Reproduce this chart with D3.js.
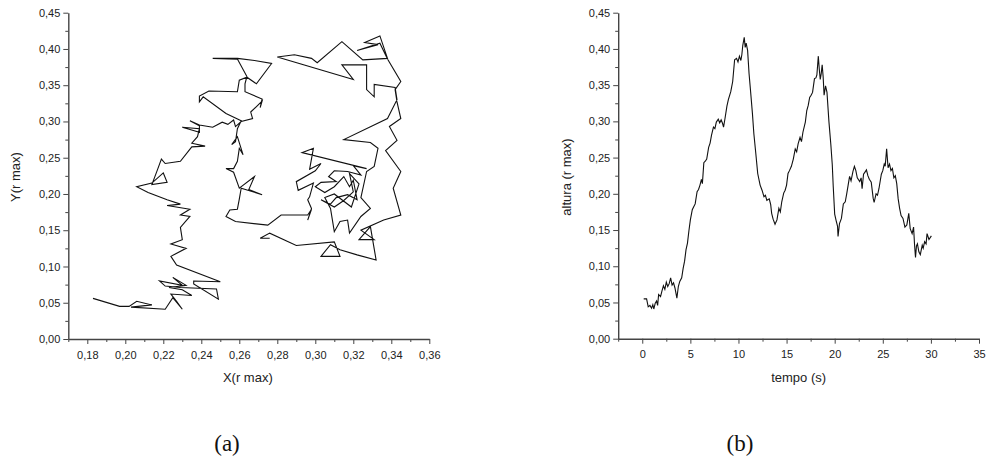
<!DOCTYPE html>
<html>
<head>
<meta charset="utf-8">
<script src="https://cdn.jsdelivr.net/npm/d3@7"></script>
<style>
  body { margin: 0; background: #fff; }
  svg { display: block; }
  .tick text { font-family: "Liberation Sans", Arial, sans-serif; font-size: 11px; fill: #222; }
  .axis path, .axis line { stroke: #444; }
  .title { font-family: "Liberation Sans", Arial, sans-serif; font-size: 13px; fill: #222; }
  .caption { font-family: "Liberation Serif", "DejaVu Serif", serif; font-size: 23px; fill: #111; }
</style>
</head>
<body>
<script>
// (a) trajectory in the plane, X and Y in units of r max
const trajX = [
  0.183, 0.197, 0.202, 0.206, 0.214, 0.203, 0.221, 0.225, 0.230, 0.227, 0.224, 0.235, 0.230, 0.223,
  0.232, 0.225, 0.230, 0.218, 0.221, 0.229, 0.248, 0.249, 0.236, 0.236, 0.250, 0.227,
  0.224, 0.232, 0.224, 0.230, 0.229, 0.234, 0.229, 0.234, 0.222, 0.229, 0.222, 0.212, 0.206, 0.214,
  0.220, 0.222, 0.214, 0.217, 0.219, 0.221, 0.229, 0.235, 0.242, 0.235, 0.238, 0.239, 0.230, 0.239,
  0.239, 0.234, 0.239, 0.246, 0.251, 0.254, 0.257, 0.258,
  0.261, 0.267, 0.266, 0.272, 0.271, 0.272, 0.263, 0.263, 0.264, 0.259, 0.246, 0.259, 0.268, 0.277,
  0.269, 0.264, 0.260, 0.259, 0.244, 0.239, 0.239, 0.241, 0.253, 0.261, 0.259, 0.258, 0.256, 0.259,
  0.262, 0.260, 0.259, 0.257, 0.253, 0.257, 0.260, 0.268, 0.265, 0.272, 0.261, 0.260, 0.259, 0.255,
  0.253, 0.258, 0.275, 0.282, 0.296, 0.298, 0.296, 0.298, 0.296, 0.297, 0.299, 0.291, 0.290, 0.300,
  0.303, 0.297, 0.299, 0.293, 0.327, 0.320, 0.324,
  0.317, 0.310, 0.307, 0.311, 0.303, 0.300, 0.305, 0.310, 0.315, 0.318, 0.320, 0.322, 0.317, 0.311,
  0.308, 0.303, 0.310, 0.315, 0.320, 0.318, 0.323, 0.319, 0.310, 0.305, 0.308, 0.310, 0.313, 0.317,
  0.318, 0.324, 0.329, 0.324, 0.327, 0.331, 0.333, 0.329, 0.315, 0.338,
  0.343, 0.342, 0.331, 0.331, 0.327, 0.327, 0.314, 0.320, 0.280, 0.289, 0.298, 0.301, 0.314, 0.325,
  0.338, 0.334, 0.326, 0.333, 0.322, 0.334, 0.338, 0.345, 0.342, 0.343, 0.345, 0.339, 0.343, 0.337,
  0.345, 0.341, 0.345, 0.336, 0.324, 0.331, 0.323, 0.329, 0.332, 0.322, 0.313, 0.308, 0.303, 0.313,
  0.310, 0.290, 0.276, 0.271, 0.276
];
const trajY = [
  0.056, 0.045, 0.045, 0.052, 0.047, 0.044, 0.041, 0.057, 0.041, 0.052, 0.062, 0.060, 0.068, 0.071,
  0.074, 0.085, 0.074, 0.080, 0.073, 0.071, 0.069, 0.055, 0.076, 0.080, 0.079, 0.102,
  0.114, 0.125, 0.131, 0.137, 0.154, 0.169, 0.171, 0.179, 0.184, 0.186, 0.192, 0.202, 0.210, 0.215,
  0.229, 0.216, 0.213, 0.234, 0.248, 0.242, 0.245, 0.265, 0.266, 0.270, 0.279, 0.290, 0.292, 0.285,
  0.294, 0.301, 0.295, 0.292, 0.299, 0.296, 0.302, 0.293,
  0.300, 0.304, 0.313, 0.328, 0.319, 0.331, 0.341, 0.352, 0.362, 0.386, 0.387, 0.387, 0.384, 0.380,
  0.352, 0.361, 0.357, 0.341, 0.342, 0.335, 0.327, 0.334, 0.311, 0.301, 0.290, 0.272, 0.268, 0.279,
  0.254, 0.263, 0.245, 0.235, 0.235, 0.230, 0.208, 0.224, 0.206, 0.199, 0.208, 0.193, 0.179, 0.178,
  0.169, 0.162, 0.157, 0.171, 0.171, 0.179, 0.164, 0.180, 0.192, 0.196, 0.215, 0.205, 0.217, 0.232,
  0.242, 0.234, 0.263, 0.257, 0.235, 0.239, 0.226,
  0.231, 0.232, 0.224, 0.217, 0.216, 0.210, 0.202, 0.210, 0.224, 0.210, 0.219, 0.192, 0.199, 0.195,
  0.186, 0.192, 0.182, 0.191, 0.203, 0.228, 0.214, 0.182, 0.200, 0.195, 0.180, 0.148, 0.162, 0.164,
  0.146, 0.169, 0.180, 0.195, 0.231, 0.238, 0.263, 0.271, 0.275, 0.304,
  0.330, 0.347, 0.351, 0.334, 0.344, 0.378, 0.378, 0.358, 0.389, 0.392, 0.387, 0.381, 0.410, 0.385,
  0.387, 0.418, 0.409, 0.406, 0.398, 0.408, 0.386, 0.355, 0.344, 0.327, 0.304, 0.293, 0.274, 0.260,
  0.231, 0.208, 0.171, 0.164, 0.150, 0.137, 0.137, 0.155, 0.109, 0.116, 0.123, 0.130, 0.114, 0.114,
  0.134, 0.129, 0.146, 0.139, 0.139
];

// (b) height against time
const tempo = [
  0.15, 0.45, 0.62, 0.8, 0.97, 1.1, 1.2, 1.35, 1.49, 1.6, 1.7, 1.9, 2.05, 2.2, 2.35, 2.5, 2.65, 2.8,
  2.95, 3.1, 3.25, 3.4, 3.6, 3.75, 3.9, 4.1, 4.25, 4.4, 4.55, 4.7, 4.85, 5.0, 5.2, 5.35, 5.5, 5.7,
  5.85, 6.0, 6.15, 6.25, 6.4, 6.55, 6.7, 6.9, 7.05, 7.2, 7.4, 7.55, 7.7, 7.9, 8.05, 8.2, 8.35, 8.45,
  8.6, 8.8, 8.95, 9.2, 9.4, 9.6, 9.8, 9.95, 10.1, 10.25, 10.35, 10.45, 10.6, 10.7, 10.8, 10.95, 11.1,
  11.25, 11.45, 11.6, 11.8, 12.0, 12.25, 12.45, 12.65, 12.8, 12.95, 13.2, 13.35, 13.45, 13.6, 13.8,
  14.0, 14.2, 14.35, 14.5, 14.7, 14.85, 15.0, 15.15, 15.3, 15.5, 15.7, 15.9, 16.05, 16.2, 16.4, 16.55,
  16.7, 16.95, 17.1, 17.25, 17.4, 17.55, 17.7, 17.9, 18.05, 18.15, 18.3, 18.4, 18.5, 18.6, 18.7, 18.8,
  18.9, 19.05, 19.2, 19.4, 19.6, 19.75, 19.85, 20.0, 20.15, 20.3, 20.35, 20.5, 20.7, 20.9, 21.1,
  21.25, 21.4, 21.55, 21.7, 21.9, 22.05, 22.2, 22.35, 22.6, 22.75, 22.85, 23.0, 23.15, 23.3, 23.45,
  23.6, 23.8, 24.0, 24.1, 24.3, 24.45, 24.6, 24.85, 25.0, 25.15, 25.25, 25.4, 25.55, 25.7, 25.85,
  26.0, 26.15, 26.3, 26.45, 26.6, 26.75, 26.9, 27.1, 27.3, 27.5, 27.7, 27.85, 28.05, 28.2, 28.3,
  28.4, 28.5, 28.6, 28.75, 28.9, 29.1, 29.2, 29.35, 29.5, 29.6, 29.8, 30.05
];
const altura = [
  0.055, 0.055, 0.044, 0.046, 0.042, 0.047, 0.041, 0.049, 0.052, 0.046, 0.061, 0.058, 0.066, 0.073,
  0.068, 0.078, 0.072, 0.076, 0.084, 0.074, 0.077, 0.070, 0.056, 0.072, 0.079, 0.084, 0.097, 0.107,
  0.123, 0.132, 0.149, 0.164, 0.178, 0.182, 0.186, 0.203, 0.206, 0.212, 0.220, 0.214, 0.243, 0.245,
  0.248, 0.264, 0.270, 0.281, 0.292, 0.290, 0.299, 0.303, 0.298, 0.302, 0.297, 0.292, 0.304, 0.321,
  0.330, 0.341, 0.355, 0.385, 0.387, 0.382, 0.390, 0.384, 0.392, 0.405, 0.416, 0.402, 0.408, 0.398,
  0.366, 0.343, 0.311, 0.283, 0.256, 0.228, 0.212, 0.205, 0.196, 0.198, 0.191, 0.193, 0.185, 0.173,
  0.165, 0.158, 0.164, 0.180, 0.175, 0.189, 0.201, 0.205, 0.212, 0.228, 0.232, 0.238, 0.248, 0.262,
  0.258, 0.269, 0.278, 0.272, 0.285, 0.299, 0.315, 0.322, 0.333, 0.336, 0.340, 0.359, 0.360, 0.364,
  0.390, 0.372, 0.358, 0.366, 0.378, 0.362, 0.336, 0.349, 0.340, 0.300, 0.268, 0.240, 0.210, 0.172,
  0.163, 0.155, 0.141, 0.159, 0.166, 0.186, 0.189, 0.200, 0.212, 0.224, 0.218, 0.231, 0.238, 0.232,
  0.222, 0.217, 0.222, 0.207, 0.227, 0.230, 0.233, 0.225, 0.220, 0.216, 0.194, 0.188, 0.200, 0.198,
  0.207, 0.227, 0.232, 0.241, 0.238, 0.262, 0.236, 0.241, 0.232, 0.235, 0.222, 0.225, 0.214, 0.193,
  0.180, 0.170, 0.166, 0.154, 0.157, 0.173, 0.152, 0.145, 0.154, 0.130, 0.112, 0.128, 0.131, 0.120,
  0.116, 0.129, 0.125, 0.134, 0.131, 0.145, 0.137, 0.142
];

// ticks
const yMajor = [0, 0.05, 0.10, 0.15, 0.20, 0.25, 0.30, 0.35, 0.40, 0.45];
const yMinor = [0.025, 0.075, 0.125, 0.175, 0.225, 0.275, 0.325, 0.375, 0.425];
const xMajorA = [0.18, 0.20, 0.22, 0.24, 0.26, 0.28, 0.30, 0.32, 0.34, 0.36];
const xMinorA = [0.17, 0.19, 0.21, 0.23, 0.25, 0.27, 0.29, 0.31, 0.33, 0.35];
const xMajorB = [0, 5, 10, 15, 20, 25, 30, 35];
const xMinorB = [-2.5, 2.5, 7.5, 12.5, 17.5, 22.5, 27.5, 32.5];

const width = 986, height = 461;
const svg = d3.select('body').append('svg')
  .attr('width', width)
  .attr('height', height);

const comma = (f) => (d) => d3.format(f)(d).replace('.', ',');

function drawPanel(opts) {
  let {x, y, xMajor, xMinor, xFmt, xs, ys, xTitle, yTitle, yTitleX, caption, captionX} = opts;
  let x0 = x.range()[0], y0 = y.range()[0];

  let g = svg.append('g');

  // minor ticks first, then major ticks with labels
  g.append('g').attr('class', 'axis')
    .attr('transform', 'translate(0,' + y0 + ')')
    .call(d3.axisBottom(x).tickValues(xMinor).tickSize(3).tickSizeOuter(0).tickFormat(''))
    .call(s => s.select('.domain').remove());
  g.append('g').attr('class', 'axis')
    .attr('transform', 'translate(' + x0 + ',0)')
    .call(d3.axisLeft(y).tickValues(yMinor).tickSize(3).tickSizeOuter(0).tickFormat(''))
    .call(s => s.select('.domain').remove());

  g.append('g').attr('class', 'axis')
    .attr('transform', 'translate(0,' + y0 + ')')
    .call(d3.axisBottom(x).tickValues(xMajor).tickSize(5).tickSizeOuter(0).tickPadding(7).tickFormat(xFmt))
    .call(s => s.select('.domain').attr('stroke-width', 1.4));
  g.append('g').attr('class', 'axis')
    .attr('transform', 'translate(' + x0 + ',0)')
    .call(d3.axisLeft(y).tickValues(yMajor).tickSize(5).tickSizeOuter(0).tickPadding(3).tickFormat(comma('.2f')))
    .call(s => s.select('.domain').attr('stroke-width', 1.4));

  let line = d3.line()
    .x((d, i) => x(xs[i]))
    .y((d, i) => y(ys[i]));

  g.append('path')
    .datum(xs)
    .attr('d', line)
    .attr('fill', 'none')
    .attr('stroke', '#111')
    .attr('stroke-width', 1.1)
    .attr('stroke-linejoin', 'miter');

  let xr = x.range();
  g.append('text').attr('class', 'title')
    .attr('x', (xr[0] + xr[1]) / 2 + opts.xTitleShift)
    .attr('y', 382)
    .attr('text-anchor', 'middle')
    .text(xTitle);

  g.append('text').attr('class', 'title')
    .attr('transform', 'translate(' + yTitleX + ',177) rotate(-90)')
    .attr('text-anchor', 'middle')
    .text(yTitle);

  g.append('text').attr('class', 'caption')
    .attr('x', captionX)
    .attr('y', 451)
    .attr('text-anchor', 'middle')
    .text(caption);
}

drawPanel({
  x: d3.scaleLinear().domain([0.17, 0.36]).range([68.3, 429.3]),
  y: d3.scaleLinear().domain([0, 0.45]).range([339, 12.7]),
  xMajor: xMajorA, xMinor: xMinorA, xFmt: comma('.2f'),
  xs: trajX, ys: trajY,
  xTitle: 'X(r max)', xTitleShift: -1, yTitle: 'Y(r max)', yTitleX: 20,
  caption: '(a)', captionX: 227
});

drawPanel({
  x: d3.scaleLinear().domain([-2.5, 35]).range([618.2, 979]),
  y: d3.scaleLinear().domain([0, 0.45]).range([338.7, 12.7]),
  xMajor: xMajorB, xMinor: xMinorB, xFmt: d3.format('d'),
  xs: tempo, ys: altura,
  xTitle: 'tempo (s)', xTitleShift: 0, yTitle: 'altura (r max)', yTitleX: 571,
  caption: '(b)', captionX: 740
});
</script>
</body>
</html>
